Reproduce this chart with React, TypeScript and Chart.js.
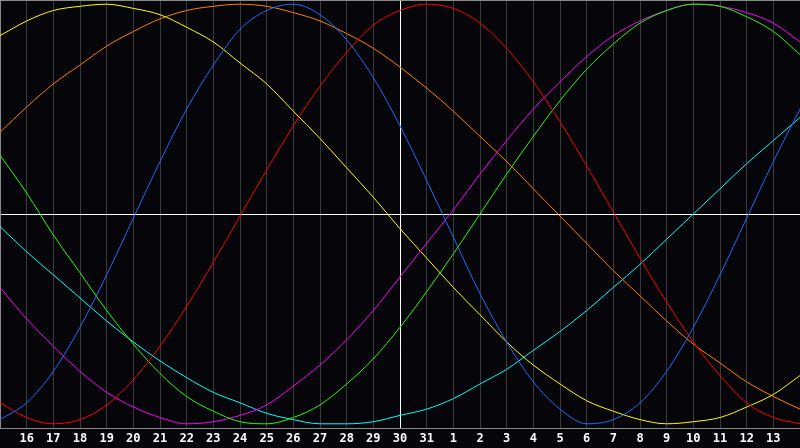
import React, { useEffect, useRef } from 'react';
import { Chart, registerables } from 'chart.js';

Chart.register(...registerables);

// days shown on the x axis (15th to the 14th of the next month)
const days = [
    '15', '16', '17', '18', '19', '20', '21', '22', '23', '24', '25', '26', '27', '28', '29', '30', '31',
    '1', '2', '3', '4', '5', '6', '7', '8', '9', '10', '11', '12', '13', '14',
];
const todayIndex = 15;

const physical = [-98, -90, -75, -54, -29, -2, 25, 50, 71, 88, 97, 100, 95, 83, 65, 42, 16, -11, -38, -61, -80, -93, -100, -98, -90, -75, -54, -29, -2, 25, 50];
const emotional = [-90, -97, -100, -98, -91, -79, -63, -44, -23, -1, 21, 42, 61, 77, 90, 97, 100, 98, 91, 79, 63, 44, 23, 1, -21, -42, -61, -77, -90, -97, -100];
const intellectual = [28, 10, -10, -28, -46, -62, -76, -87, -94, -99, -100, -97, -91, -81, -69, -54, -37, -19, 0, 19, 37, 54, 69, 81, 91, 97, 100, 99, 94, 87, 76];
const intuitive = [-35, -50, -63, -75, -85, -92, -97, -100, -99, -96, -91, -82, -72, -60, -46, -30, -14, 2, 19, 35, 50, 63, 75, 85, 92, 97, 100, 99, 96, 91, 82];
const aesthetic = [85, 92, 97, 99, 100, 98, 95, 89, 82, 72, 62, 49, 36, 22, 8, -7, -21, -35, -48, -61, -72, -81, -89, -94, -98, -100, -99, -97, -92, -86, -77];
const awareness = [39, 51, 62, 71, 80, 87, 93, 97, 99, 100, 99, 96, 92, 86, 79, 70, 60, 49, 37, 25, 12, -1, -14, -27, -39, -51, -62, -71, -80, -87, -93];
const spiritual = [-6, -18, -29, -40, -51, -61, -70, -78, -85, -90, -95, -98, -100, -100, -99, -96, -93, -88, -81, -74, -65, -56, -46, -35, -24, -12, 0, 12, 24, 35, 46];

const BiorhythmChart: React.FC = () => {
    const chartRef = useRef<HTMLCanvasElement>(null);

    useEffect(() => {
        if (!chartRef.current) return;
        const ctx = chartRef.current.getContext('2d');
        if (!ctx) return;

        const line = (label: string, data: number[], color: string) => ({
            label,
            data,
            borderColor: color,
            borderWidth: 1,
            pointRadius: 0,
            cubicInterpolationMode: 'monotone' as const,
            fill: false,
        });

        const chart = new Chart(ctx, {
            type: 'line',
            data: {
                labels: days,
                datasets: [
                    line('Physical', physical, '#1e6cff'),
                    line('Emotional', emotional, '#ff0000'),
                    line('Intellectual', intellectual, '#22ff00'),
                    line('Intuitive', intuitive, '#ff00ff'),
                    line('Aesthetic', aesthetic, '#ffff00'),
                    line('Awareness', awareness, '#ff8000'),
                    line('Spiritual', spiritual, '#00ffff'),
                ],
            },
            options: {
                responsive: false,
                animation: false,
                layout: { padding: 0, autoPadding: false },
                plugins: {
                    legend: { display: false },
                    tooltip: { enabled: false },
                },
                scales: {
                    x: {
                        offset: false,
                        // plot runs edge to edge, labels sit in a 20px strip
                        afterFit: (scale) => {
                            scale.height = 20;
                            scale.paddingLeft = 0;
                            scale.paddingRight = 0;
                        },
                        grid: {
                            drawTicks: false,
                            color: (c) => {
                                if (c.index === todayIndex) return '#ffffff';
                                if (c.index === days.length - 1) return 'rgba(0,0,0,0)';
                                return '#3a3a3a';
                            },
                        },
                        border: { display: true, color: '#8a8a8a' },
                        ticks: {
                            autoSkip: false,
                            maxRotation: 0,
                            padding: 4,
                            color: '#ffffff',
                            font: { family: 'DejaVu Sans Mono', size: 12, weight: 'bold' },
                            callback: (_v, i) => (i === 0 || i === days.length - 1 ? '' : days[i]),
                        },
                    },
                    y: {
                        min: -102,
                        max: 102,
                        grid: {
                            drawTicks: false,
                            color: (c) => (c.tick.value === 0 ? '#ffffff' : '#8a8a8a'),
                        },
                        border: { display: true, color: '#8a8a8a' },
                        ticks: { display: false, stepSize: 102 },
                    },
                },
            },
        });

        return () => {
            chart.destroy();
        };
    }, []);

    return (
        <div style={{ position: 'absolute', left: 0, top: 0, width: 800, height: 448, background: '#05050a' }}>
            <canvas ref={chartRef} width={800} height={448} />
        </div>
    );
};

export default function App() {
    return <BiorhythmChart />;
}
